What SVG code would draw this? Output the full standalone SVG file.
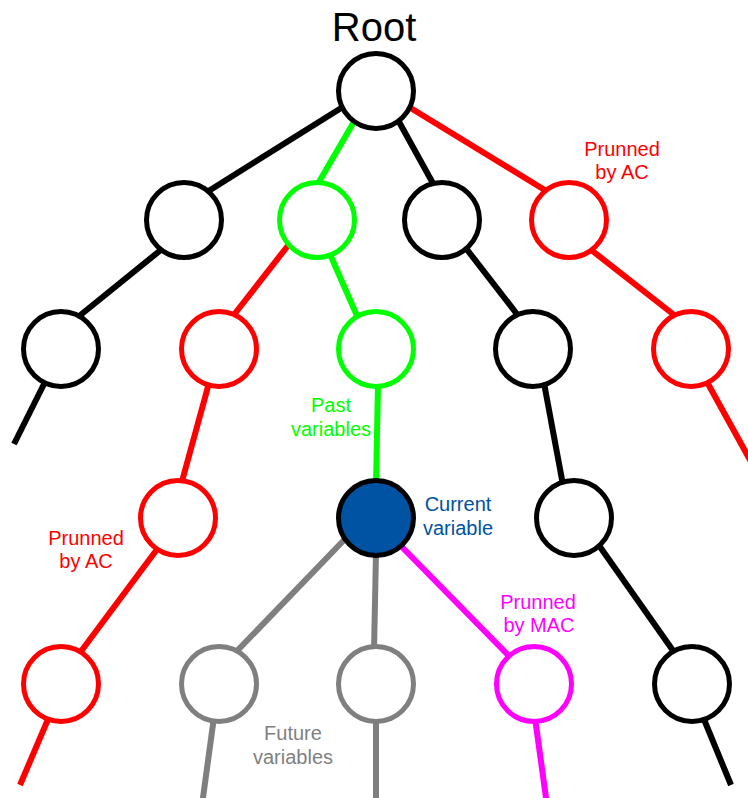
<svg xmlns="http://www.w3.org/2000/svg" width="748" height="798" viewBox="0 0 748 798">
  <style>
    .edge { fill: none; stroke-width: 6; stroke-linecap: butt; }
    .node { fill: #ffffff; stroke-width: 5; }
    .k { stroke: #000000; }
    .r { stroke: #ff0000; }
    .g { stroke: #00ff00; }
    .gy { stroke: #7f7f7f; }
    .m { stroke: #ff00ff; }
    .cur { fill: #0052a2; stroke: #000000; stroke-width: 5; }
    .lbl { font-family: "Liberation Sans", Arial, sans-serif; font-size: 20px; text-anchor: middle; }
    .title { font-family: "Liberation Sans", Arial, sans-serif; font-size: 40px; text-anchor: middle; fill: #000000; }
  </style>
  <rect width="748" height="798" fill="#ffffff"/>

  <!-- connectors -->
  <g id="connectors">
    <line class="edge k" x1="346" y1="105" x2="207" y2="192"/>
    <line class="edge g" x1="355" y1="120" x2="316" y2="187"/>
    <line class="edge k" x1="398" y1="120" x2="435" y2="187"/>
    <line class="edge r" x1="409" y1="107" x2="548" y2="192"/>

    <line class="edge k" x1="162" y1="249" x2="78" y2="317"/>
    <line class="edge k" x1="45" y1="382" x2="14" y2="444"/>
    <line class="edge r" x1="290" y1="243" x2="233" y2="316"/>
    <line class="edge g" x1="329" y1="252" x2="358" y2="318"/>
    <line class="edge k" x1="465" y1="247" x2="520" y2="318"/>
    <line class="edge r" x1="590" y1="249" x2="678" y2="318"/>

    <line class="edge r" x1="209" y1="383" x2="181" y2="485"/>
    <line class="edge g" x1="378" y1="384" x2="376" y2="485"/>
    <line class="edge k" x1="544" y1="383" x2="563" y2="485"/>
    <line class="edge r" x1="707" y1="382" x2="755" y2="469"/>

    <line class="edge r" x1="158" y1="548" x2="79" y2="654"/>
    <line class="edge gy" x1="346" y1="538" x2="235" y2="653"/>
    <line class="edge gy" x1="376" y1="553" x2="374" y2="651"/>
    <line class="edge m" x1="400" y1="545" x2="509" y2="656"/>
    <line class="edge k" x1="598" y1="544" x2="674" y2="652"/>

    <line class="edge r" x1="49" y1="717" x2="20" y2="785"/>
    <line class="edge gy" x1="214" y1="717" x2="202" y2="805"/>
    <line class="edge gy" x1="376" y1="718" x2="376" y2="805"/>
    <line class="edge m" x1="535" y1="718" x2="547" y2="805"/>
    <line class="edge k" x1="703" y1="717" x2="731" y2="785"/>
  </g>

  <!-- nodes -->
  <g id="root"><circle class="node k" cx="376" cy="91" r="37.5"/></g>

  <g id="n1a"><circle class="node k" cx="184" cy="220" r="37.5"/></g>
  <g id="n1b"><circle class="node g" cx="317" cy="220" r="37.5"/></g>
  <g id="n1c"><circle class="node k" cx="442" cy="220" r="37.5"/></g>
  <g id="n1d"><circle class="node r" cx="569" cy="220" r="37.5"/></g>

  <g id="n2a"><circle class="node k" cx="61" cy="349" r="37.5"/></g>
  <g id="n2b"><circle class="node r" cx="219" cy="349" r="37.5"/></g>
  <g id="n2c"><circle class="node g" cx="376" cy="349" r="37.5"/></g>
  <g id="n2d"><circle class="node k" cx="533" cy="349" r="37.5"/></g>
  <g id="n2e"><circle class="node r" cx="691" cy="349" r="37.5"/></g>

  <g id="n3a"><circle class="node r" cx="178" cy="518" r="37.5"/></g>
  <g id="current"><circle class="cur" cx="376" cy="518" r="37.5"/></g>
  <g id="n3c"><circle class="node k" cx="574" cy="518" r="37.5"/></g>

  <g id="n4a"><circle class="node r" cx="61" cy="684" r="37.5"/></g>
  <g id="n4b"><circle class="node gy" cx="219" cy="684" r="37.5"/></g>
  <g id="n4c"><circle class="node gy" cx="376" cy="684" r="37.5"/></g>
  <g id="n4d"><circle class="node m" cx="534" cy="684" r="37.5"/></g>
  <g id="n4e"><circle class="node k" cx="692" cy="684" r="37.5"/></g>

  <!-- labels -->
  <g id="labels">
    <text class="title" x="374" y="41">Root</text>
    <text class="lbl" fill="#ff0000" x="622" y="156">Prunned</text>
    <text class="lbl" fill="#ff0000" x="622" y="179">by AC</text>
    <text class="lbl" fill="#00ff00" x="331" y="412">Past</text>
    <text class="lbl" fill="#00ff00" x="331" y="436">variables</text>
    <text class="lbl" fill="#0052a2" x="458" y="511">Current</text>
    <text class="lbl" fill="#0052a2" x="458" y="535">variable</text>
    <text class="lbl" fill="#ff0000" x="86" y="545">Prunned</text>
    <text class="lbl" fill="#ff0000" x="86" y="568">by AC</text>
    <text class="lbl" fill="#ff00ff" x="538" y="609">Prunned</text>
    <text class="lbl" fill="#ff00ff" x="539" y="632">by MAC</text>
    <text class="lbl" fill="#7f7f7f" x="293" y="740">Future</text>
    <text class="lbl" fill="#7f7f7f" x="293" y="764">variables</text>
  </g>
</svg>
